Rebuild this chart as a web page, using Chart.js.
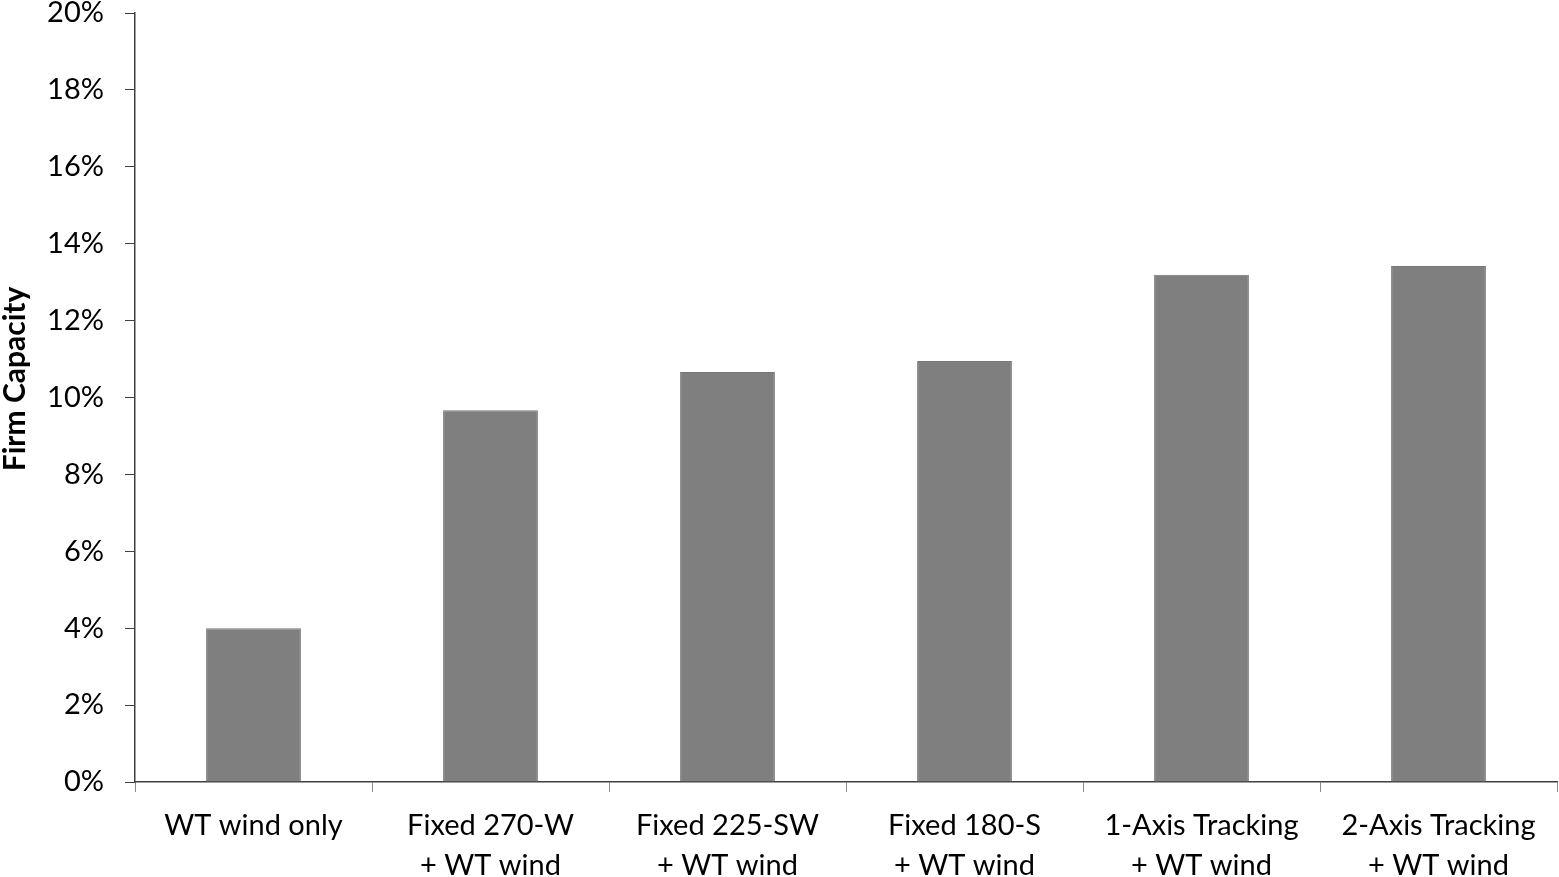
<!DOCTYPE html>
<html>
<head>
<meta charset="utf-8">
<script src="https://cdn.jsdelivr.net/npm/chart.js@4.4.1/dist/chart.umd.min.js"></script>
<style>
  html, body { margin: 0; padding: 0; background: #fff; }
  #wrap { width: 1559px; height: 877px; position: relative; }
</style>
</head>
<body>
<div id="wrap"><canvas id="bar1"></canvas></div>
<script>
// data
var categories = [
    ['WT wind only'],
    ['Fixed 270-W', '+ WT wind'],
    ['Fixed 225-SW', '+ WT wind'],
    ['Fixed 180-S', '+ WT wind'],
    ['1-Axis Tracking', '+ WT wind'],
    ['2-Axis Tracking', '+ WT wind']
];
var firmCapacity = [4.0, 9.67, 10.66, 10.95, 13.19, 13.42];
var yMin = 0, yMax = 20, yStep = 2;
var yTitle = 'Firm Capacity';

var fontName = 'Lato, "Open Sans", sans-serif';

// y title drawn by hand so it sits where the original puts it
var yTitlePlugin = {
    id: 'ytitle',
    afterDraw: function (chart) {
        var ctx = chart.ctx;
        ctx.save();
        ctx.translate(15, 379);
        ctx.rotate(-Math.PI / 2);
        ctx.font = 'bold 30px ' + fontName;
        ctx.fillStyle = '#000';
        ctx.textAlign = 'center';
        ctx.textBaseline = 'middle';
        ctx.fillText(yTitle, 0, 0);
        ctx.restore();
    }
};

var barChartCanvas = document.getElementById('bar1').getContext('2d');
var barChart = new Chart(barChartCanvas, {
    type: 'bar',
    data: {
        labels: categories,
        datasets: [{
            label: yTitle,
            data: firmCapacity,
            backgroundColor: '#7f7f7f',
            borderColor: '#777777',
            borderWidth: 1,
            barPercentage: 0.4,
            categoryPercentage: 1.0
        }]
    },
    options: {
        responsive: true,
        maintainAspectRatio: false,
        animation: false,
        layout: { padding: { top: 13, right: 2, left: 0, bottom: 0 } },
        plugins: {
            legend: { display: false },
            tooltip: { enabled: false }
        },
        scales: {
            x: {
                grid: {
                    offset: true,
                    drawOnChartArea: false,
                    drawTicks: true,
                    tickLength: 10,
                    color: '#8c8c8c'
                },
                border: { display: true, color: '#404040', width: 1.5 },
                ticks: {
                    color: '#000',
                    font: { family: fontName, size: 29, lineHeight: 1.38 },
                    padding: 14,
                    maxRotation: 0,
                    autoSkip: false
                },
                afterFit: function (scale) {
                    scale.height = 95;
                    scale.paddingLeft = 0;
                    scale.paddingRight = 0;
                }
            },
            y: {
                min: yMin,
                max: yMax,
                grid: {
                    drawOnChartArea: false,
                    drawTicks: true,
                    tickLength: 10,
                    color: '#404040'
                },
                border: { display: true, color: '#404040', width: 1.5 },
                ticks: {
                    stepSize: yStep,
                    color: '#000',
                    font: { family: fontName, size: 29 },
                    padding: 21,
                    callback: function (v) { return v + '%'; }
                },
                afterFit: function (scale) {
                    scale.width = 135;
                    scale.paddingTop = 0;
                    scale.paddingBottom = 0;
                }
            }
        }
    },
    plugins: [yTitlePlugin]
});
</script>
</body>
</html>
